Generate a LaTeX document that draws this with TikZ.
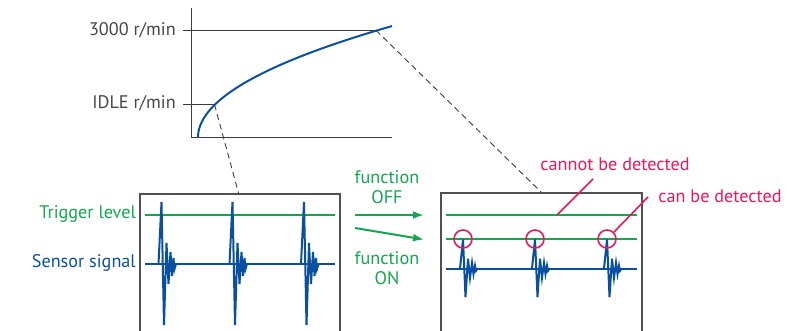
\documentclass[tikz,border=0pt]{standalone}
\usepackage{fontspec}
\setmainfont{PT Sans}
\usetikzlibrary{arrows.meta}
\definecolor{tgreen}{RGB}{20,166,80}
\definecolor{sblue}{RGB}{10,80,160}
\definecolor{hpink}{RGB}{230,25,90}
\definecolor{axgray}{RGB}{60,60,60}
\definecolor{txtgray}{RGB}{70,70,70}
\tikzset{
  axisline/.style={draw=axgray,line width=1pt},
  rpm/.style={draw=sblue,line width=2pt},
  lbl/.style={font=\fontsize{18.2}{20}\selectfont,inner sep=0pt,anchor=east},
  trig/.style={draw=tgreen,line width=2pt},
  sig/.style={draw=sblue,line width=2pt,line join=miter},
  panel/.style={draw=axgray!90,line width=1.3pt},
  zoomline/.style={draw=axgray,line width=0.9pt,dash pattern=on 6pt off 4pt},
  hl/.style={draw=hpink,line width=1.6pt},
  fnarrow/.style={draw=tgreen,line width=2pt,-{Latex[length=11pt,width=8pt]}},
  gtext/.style={text=tgreen,font=\fontsize{18.2}{20}\selectfont,align=center,inner sep=0pt},
  ptext/.style={text=hpink,font=\fontsize{18.2}{20}\selectfont,inner sep=0pt},
}
\newcommand{\spikeat}[3]{% x, baseline y, yscale
  \draw[sig] (#1-3,#2) -- (#1,#2-62*#3) -- (#1+2.5,#2+61*#3) -- (#1+5,#2-21*#3) -- (#1+7,#2+20*#3)
    -- (#1+9,#2-12*#3) -- (#1+10.5,#2+12*#3) -- (#1+12,#2-6*#3) -- (#1+13,#2+5*#3) -- (#1+14.5,#2);
}
\begin{document}
\begin{tikzpicture}[x=1pt,y=-1pt]
\useasboundingbox (0,0) rectangle (811,331);
% graph
\coordinate (yaxtop) at (191,8);
\coordinate (orig) at (191,137.5);
\coordinate (xend) at (392,137.5);
\draw[axisline] (yaxtop) -- (orig) -- (xend);
\coordinate (p3000) at (376,30.3);
\coordinate (pidle) at (214.5,104.5);
\coordinate (t3000) at (183,30.3);
\coordinate (tidle) at (183,104.5);
\draw[axisline] (t3000) -- (p3000);
\draw[axisline] (tidle) -- (pidle);
\node[lbl,text=txtgray] (l3000) at (176,30) {3000 r/min};
\node[lbl,text=txtgray] (lidle) at (176,103) {IDLE r/min};
\draw[rpm] plot[domain=0:13.93,samples=80,variable=\t] ({198+\t*\t},{137.5-8*\t});
% panels
\draw[panel] (140,331.5) |- (340,194) -- (340,331.5);
\draw[panel] (441,331.5) |- (642,193) -- (642,331.5);
\coordinate (lbtop) at (238.5,193);
\coordinate (rbtop) at (541,192);
\draw[zoomline] (pidle) -- (lbtop);
\draw[zoomline] (p3000) -- (rbtop);
% left panel
\coordinate (lt1) at (145,215); \coordinate (lt2) at (335,215);
\draw[trig] (lt1) -- (lt2);
\coordinate (ls1) at (145,264); \coordinate (ls2) at (335,264);
\draw[sig] (ls1) -- (ls2);
\spikeat{161.5}{264}{1}
\spikeat{232.5}{264}{1}
\spikeat{304}{264}{1}
\node[lbl,text=tgreen] (ltrig) at (136,214) {Trigger level};
\node[lbl,text=sblue] (lsens) at (136,263) {Sensor signal};
% arrows
\coordinate (a1s) at (355,215); \coordinate (a1e) at (424,215);
\coordinate (a2s) at (355,228); \coordinate (a2e) at (424,239.5);
\draw[fnarrow] (a1s) -- (a1e);
\draw[fnarrow] (a2s) -- (a2e);
\node[gtext] (foff) at (387,187) {function\\OFF};
\node[gtext] (fon) at (387,268) {function\\ON};
% right panel
\coordinate (rt1) at (446,215); \coordinate (rt2) at (637,215);
\draw[trig] (rt1) -- (rt2);
\coordinate (rl1) at (446,239); \coordinate (rl2) at (637,239);
\draw[trig] (rl1) -- (rl2);
\coordinate (rs1) at (446,268.5); \coordinate (rs2) at (637,268.5);
\draw[sig] (rs1) -- (rs2);
\spikeat{463}{268.5}{0.47}
\spikeat{535}{268.5}{0.47}
\spikeat{607}{268.5}{0.47}
\node[hl,circle,minimum size=18pt,inner sep=0pt] (c1) at (463,239) {};
\node[hl,circle,minimum size=18pt,inner sep=0pt] (c2) at (535,239) {};
\node[hl,circle,minimum size=18pt,inner sep=0pt] (c3) at (607,239) {};
\node[ptext] (cannot) at (615,164) {cannot be detected};
\node[ptext] (can) at (720,196) {can be detected};
\coordinate (cl1) at (593,179); \coordinate (cl2) at (557,215);
\draw[hl] (cl1) -- (cl2);
\coordinate (dl1) at (648,197);
\draw[hl] (dl1) -- (c3.north east);
\end{tikzpicture}
\end{document}
